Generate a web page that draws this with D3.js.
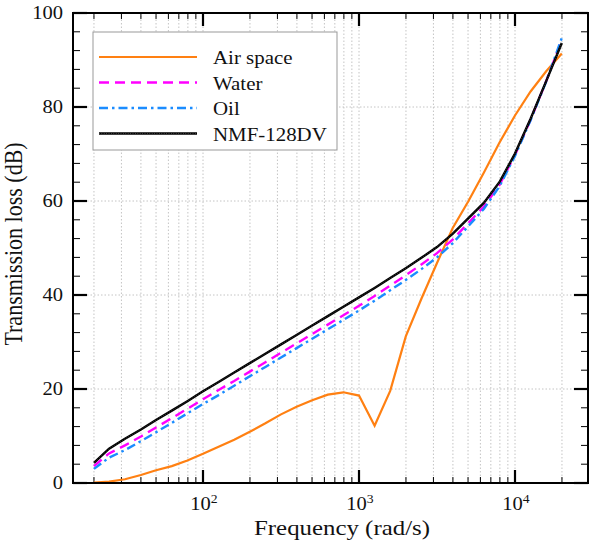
<!DOCTYPE html>
<html>
<head>
<meta charset="utf-8">
<script src="https://cdn.jsdelivr.net/npm/d3@7"></script>
<style>
  body { margin: 0; background: #fff; }
  svg { display: block; }
  text { font-family: "Liberation Serif", "Times New Roman", Times, serif; fill: #111; }
</style>
</head>
<body>
<div class="chart"></div>
<script>
// frequencies (rad/s), 1/10-decade steps
const freq = [20, 25, 31.6, 40, 50, 63.1, 79.4, 100, 125.9, 158.5, 199.5, 251.2, 316.2, 398.1, 501.2, 631,
  794.3, 1000, 1259, 1585, 1995, 2512, 3162, 3981, 5012, 6310, 7943, 10000, 12589, 15849, 19953];

// transmission loss (dB)
const airSpace = [0.1, 0.3, 0.8, 1.7, 2.7, 3.6, 4.8, 6.2, 7.7, 9.2, 10.9, 12.7, 14.6, 16.2, 17.6, 18.8,
  19.3, 18.6, 12.2, 19.6, 31.2, 39.2, 46.8, 54.2, 59.9, 66.0, 72.4, 78.2, 83.3, 87.6, 91.4];
const water = [3.6, 6.3, 8.0, 9.9, 11.8, 13.8, 15.8, 17.8, 19.8, 21.7, 23.7, 25.7, 27.7, 29.7, 31.7, 33.7,
  35.7, 37.7, 39.8, 42.0, 44.2, 46.5, 48.9, 51.8, 55.3, 58.8, 63.4, 69.8, 77.3, 85.5, 94.3];
const oil = [3.0, 5.4, 7.0, 8.9, 10.8, 12.8, 14.8, 16.8, 18.7, 20.7, 22.7, 24.7, 26.7, 28.7, 30.7, 32.7,
  34.7, 36.7, 38.8, 41.0, 43.2, 45.5, 48.0, 51.0, 54.6, 58.3, 63.1, 69.6, 77.2, 85.4, 94.7];
const nmf = [4.3, 7.3, 9.4, 11.4, 13.4, 15.4, 17.4, 19.5, 21.5, 23.5, 25.5, 27.5, 29.5, 31.5, 33.5, 35.5,
  37.5, 39.5, 41.5, 43.6, 45.7, 47.9, 50.2, 53.0, 56.3, 59.6, 64.0, 70.1, 77.5, 85.5, 93.6];

const seriesNames = ["Air space", "Water", "Oil", "NMF-128DV"];
const xMajor = [100, 1000, 10000];
const xExp = ["2", "3", "4"];
const yMajor = [0, 20, 40, 60, 80, 100];

const width = 589, height = 546;
const margin = { top: 13, right: 1, bottom: 63, left: 73 };
const x0 = margin.left, x1 = width - margin.right;
const y0 = height - margin.bottom, y1 = margin.top;

const x = d3.scaleLog().domain([Math.pow(10, 2 - 130 / 156), Math.pow(10, 4 + 73 / 156)]).range([x0, x1]);
const y = d3.scaleLinear().domain([0, 100]).range([y0, y1]);

// minor log positions inside the domain
const xMinor = [];
[10, 100, 1000, 10000].forEach(d => {
  for (let k = 1; k < 10; k++) {
    const v = d * k;
    if (v >= x.domain()[0] && v <= x.domain()[1]) xMinor.push(v);
  }
});
const yMinor = d3.range(0, 101, 4);

const svg = d3.select(".chart").append("svg")
  .attr("width", width).attr("height", height);

// grid
svg.append("g").selectAll("line").data(xMinor).enter().append("line")
  .attr("x1", d => x(d)).attr("x2", d => x(d)).attr("y1", y0).attr("y2", y1)
  .attr("stroke", "#c4c4c4").attr("stroke-width", 1).attr("stroke-dasharray", "1.5,2");
svg.append("g").selectAll("line").data([20, 40, 60, 80]).enter().append("line")
  .attr("x1", x0).attr("x2", x1).attr("y1", d => y(d)).attr("y2", d => y(d))
  .attr("stroke", "#c4c4c4").attr("stroke-width", 1).attr("stroke-dasharray", "1.5,2");

// ticks, all pointing inward
const tickG = svg.append("g").attr("stroke", "#000");
function ticks(vals, len, w) {
  vals.forEach(v => {
    const xv = x(v);
    tickG.append("line").attr("x1", xv).attr("x2", xv).attr("y1", y0).attr("y2", y0 - len).attr("stroke-width", w);
    tickG.append("line").attr("x1", xv).attr("x2", xv).attr("y1", y1).attr("y2", y1 + len).attr("stroke-width", w);
  });
}
ticks(xMinor, 6, 1);
ticks(xMajor, 13, 2.2);
function yticks(vals, len, w) {
  vals.forEach(v => {
    const yv = y(v);
    tickG.append("line").attr("x1", x0).attr("x2", x0 + len).attr("y1", yv).attr("y2", yv).attr("stroke-width", w);
    tickG.append("line").attr("x1", x1).attr("x2", x1 - len).attr("y1", yv).attr("y2", yv).attr("stroke-width", w);
  });
}
yticks(yMinor, 7, 1);
yticks(yMajor, 14, 2.2);

// lines
const rows = freq.map((f, i) => ({ f, air: airSpace[i], water: water[i], oil: oil[i], nmf: nmf[i] }));
const line = key => d3.line().x(d => x(d.f)).y(d => y(d[key]))(rows);

const styles = [
  { key: "air", color: "#ff8012", dash: null, w: 2.2 },
  { key: "water", color: "#ff00ff", dash: "10,6", w: 2.4 },
  { key: "oil", color: "#1b8cff", dash: "9,4,2.5,4", w: 2.4 },
  { key: "nmf", color: "#000", dash: null, w: 2.4 }
];

const plot = svg.append("g");
styles.forEach(s => {
  plot.append("path").attr("d", line(s.key)).attr("fill", "none")
    .attr("stroke", s.color).attr("stroke-width", s.w)
    .attr("stroke-dasharray", s.dash);
});
// dotted texture on the NMF line
plot.append("path").attr("d", line("nmf")).attr("fill", "none")
  .attr("stroke", "#666").attr("stroke-width", 0.7).attr("stroke-dasharray", "0.8,1.6");

// frame
svg.append("rect").attr("x", x0).attr("y", y1).attr("width", x1 - x0).attr("height", y0 - y1)
  .attr("fill", "none").attr("stroke", "#000").attr("stroke-width", 2);

// tick labels
svg.append("g").selectAll("text").data(yMajor).enter().append("text")
  .attr("transform", d => "translate(63," + (y(d) + 6) + ") scale(1.14,1)")
  .attr("text-anchor", "end").attr("font-size", 18).text(d => d);

const xl = svg.append("g").selectAll("text").data(xMajor).enter().append("text")
  .attr("transform", d => "translate(" + (x(d) + 1) + ",510) scale(1.14,1)")
  .attr("text-anchor", "middle").attr("font-size", 18);
xl.append("tspan").text("10");
xl.append("tspan").attr("dy", -7).attr("font-size", 12).text((d, i) => xExp[i]);

// axis titles
svg.append("text").attr("transform", "translate(342,535) scale(1.13,1)")
  .attr("text-anchor", "middle").attr("font-size", 22).text("Frequency (rad/s)");
svg.append("text").attr("transform", "translate(22,244) scale(1.12,1) rotate(-90)")
  .attr("text-anchor", "middle").attr("font-size", 22).text("Transmission loss (dB)");

// legend
const lg = svg.append("g");
lg.append("rect").attr("x", 93).attr("y", 32).attr("width", 244).attr("height", 118)
  .attr("fill", "#fff").attr("stroke", "#999").attr("stroke-width", 1);
seriesNames.forEach((name, i) => {
  const ry = 57 + i * 25.5;
  const s = styles[i];
  lg.append("line").attr("x1", 99).attr("x2", 197).attr("y1", ry).attr("y2", ry)
    .attr("stroke", s.color).attr("stroke-width", s.w).attr("stroke-dasharray", s.dash);
  if (s.key === "nmf") {
    lg.append("line").attr("x1", 99).attr("x2", 197).attr("y1", ry).attr("y2", ry)
      .attr("stroke", "#666").attr("stroke-width", 0.7).attr("stroke-dasharray", "0.8,1.6");
  }
  lg.append("text").attr("transform", "translate(213," + (ry + 7) + ") scale(1.1,1)")
    .attr("font-size", 19).text(name);
});
</script>
</body>
</html>
